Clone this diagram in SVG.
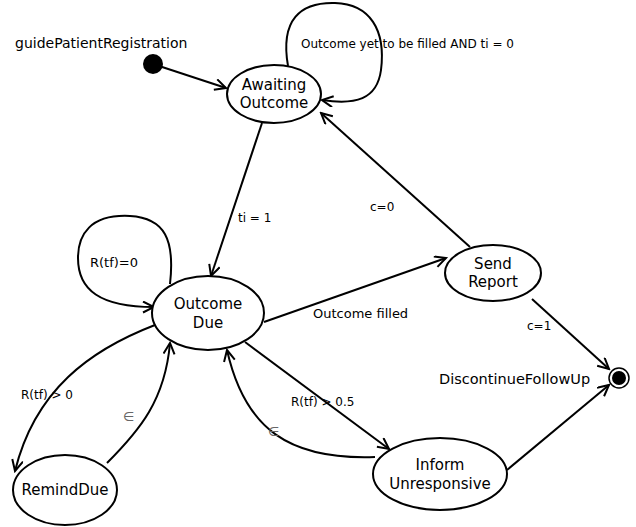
<svg xmlns="http://www.w3.org/2000/svg" width="636" height="527" viewBox="0 0 636 527">
<defs>
<marker id="arr" markerWidth="14" markerHeight="14" refX="12" refY="6" orient="auto" markerUnits="userSpaceOnUse">
<path d="M1,0.5 L12,6 L1,11.5" fill="none" stroke="#000" stroke-width="2"/>
</marker>
<style>
.st{fill:#fff;stroke:#000;stroke-width:2}
.c{fill:none;stroke:#000;stroke-width:2;marker-end:url(#arr)}
text{font-family:"DejaVu Sans","Liberation Sans",Arial,sans-serif;fill:#000}
.n{font-size:15px;text-anchor:middle}
.l{font-size:12px}
.e{font-size:13px;fill:#666}
</style>
</defs>
<rect width="636" height="527" fill="#fff"/>
<g id="connectors">
<path class="c" d="M153,64 L226,88"/>
<path class="c" d="M288,66 C280,20 300,2 335,3 C370,4 386,30 381,70 C377,100 355,105 322,100"/>
<path class="c" d="M262,123 L211,276"/>
<path class="c" d="M470,247 L321,113"/>
<path class="c" d="M264,322 L446,258"/>
<path class="c" d="M532,299 L609,369"/>
<path class="c" d="M507,470 L609,385"/>
<path class="c" d="M245,342 L389,449"/>
<path class="c" d="M375,457 C290,460 245,430 227,350"/>
<path class="c" d="M155,325 C90,350 35,390 15,471"/>
<path class="c" d="M107,463 C140,430 165,400 170,343"/>
<path class="c" d="M170,284 C175,240 165,218 130,216 C90,214 78,235 78,258 C78,290 100,307 154,307"/>
<text class="l" x="301" y="48">Outcome yet to  be filled AND ti = 0</text>
<text class="l" x="238" y="222">ti = 1</text>
<text class="l" x="370" y="211">c=0</text>
<text x="90" y="267" style="font-size:13px">R(tf)=0</text>
<text x="313" y="318" style="font-size:13px">Outcome filled</text>
<text class="l" x="527" y="330">c=1</text>
<text class="l" x="291" y="406">R(tf)   &gt; 0.5</text>
<text class="l" x="21" y="399">R(tf)   &gt; 0</text>
<text class="e" x="123" y="421">∈</text>
<text class="e" x="268" y="436">∈</text>
</g>
<g id="initial">
<circle cx="153" cy="64" r="10" fill="#000"/>
<text x="15" y="48" style="font-size:14px">guidePatientRegistration</text>
</g>
<g id="awaitingOutcome">
<ellipse class="st" cx="274" cy="94" rx="47" ry="29"/>
<text class="n" x="274" y="90">Awaiting</text>
<text class="n" x="274" y="108">Outcome</text>
</g>
<g id="outcomeDue">
<ellipse class="st" cx="208" cy="313" rx="56" ry="37"/>
<text class="n" x="208" y="309">Outcome</text>
<text class="n" x="208" y="328">Due</text>
</g>
<g id="sendReport">
<ellipse class="st" cx="493" cy="273" rx="48" ry="28"/>
<text class="n" x="493" y="269">Send</text>
<text class="n" x="493" y="287">Report</text>
</g>
<g id="remindDue">
<ellipse class="st" cx="65" cy="490" rx="52" ry="35"/>
<text class="n" x="65" y="495">RemindDue</text>
</g>
<g id="informUnresponsive">
<ellipse class="st" cx="440" cy="474" rx="67" ry="36"/>
<text class="n" x="440" y="470">Inform</text>
<text class="n" x="440" y="489">Unresponsive</text>
</g>
<g id="final">
<circle cx="619" cy="378" r="10" fill="#fff" stroke="#000" stroke-width="1.5"/>
<circle cx="619" cy="378" r="7" fill="#000"/>
<text x="439" y="384" style="font-size:14.5px">DiscontinueFollowUp</text>
</g>
</svg>
